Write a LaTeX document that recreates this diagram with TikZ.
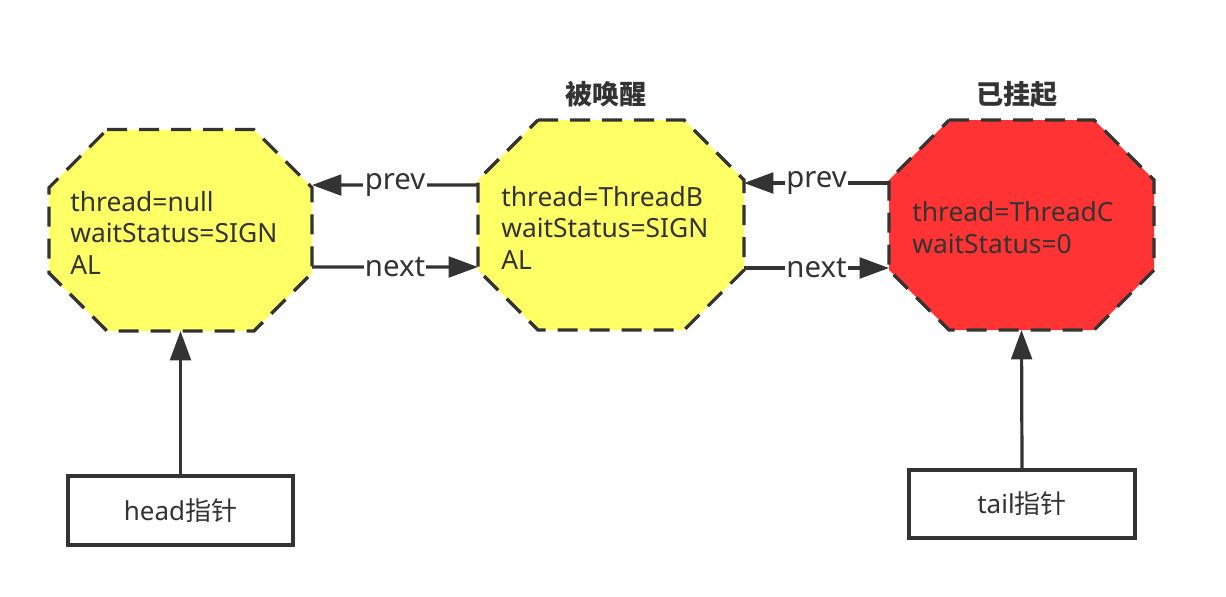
\documentclass[tikz,border=0pt]{standalone}
\usepackage{fontspec}
\setmainfont{Noto Sans}
\newfontfamily\cjk{Noto Sans CJK SC}
\usetikzlibrary{arrows.meta,calc}
\definecolor{ink}{HTML}{333333}
\definecolor{pale}{HTML}{FFFF66}
\definecolor{alarm}{HTML}{FF3333}

% outline of an octagon fitted into the frame node #1, corners cut by #2
\newcommand\octagonpath[2]{%
  ($(#1.north west)+(#2,0)$) -- ($(#1.north east)+(-#2,0)$) --
  ($(#1.north east)+(0,#2)$) -- ($(#1.south east)+(0,-#2)$) --
  ($(#1.south east)+(-#2,0)$) -- ($(#1.south west)+(#2,0)$) --
  ($(#1.south west)+(0,-#2)$) -- ($(#1.north west)+(0,#2)$) -- cycle}

\begin{document}
\begin{tikzpicture}[x=0.75pt,y=-0.75pt,
  frame/.style={inner sep=0pt, outer sep=0pt},
  octo/.style={draw=ink, line width=2.4pt, dash pattern=on 15pt off 9pt, line join=miter},
  body/.style={anchor=base west, align=left, inner sep=0pt, text=ink,
    font=\fontsize{19.8}{23.6}\selectfont},
  title/.style={text=ink, inner sep=0pt, font=\cjk\bfseries\fontsize{20.3}{24}\selectfont},
  link/.style={draw=ink, line width=2.4pt, -{Triangle[length=22pt,width=15.5pt]}},
  tag/.style={fill=white, text=ink, inner sep=1pt, font=\fontsize{22}{26}\selectfont},
  ptr/.style={draw=ink, line width=3pt, fill=white, text=ink, inner sep=0pt,
    font=\fontsize{19.5}{23}\selectfont},
]
\useasboundingbox (0,0) rectangle (1226,596);

% frames of the three queue nodes
\node[frame, minimum width=197.25pt, minimum height=151.1pt] (n1) at (180.5,230.25) {};
\node[frame, minimum width=199.5pt, minimum height=157.5pt] (n2) at (611,225) {};
\node[frame, minimum width=198.75pt, minimum height=157.5pt] (n3) at (1021.5,225) {};

\fill[pale] \octagonpath{n1}{58};
\draw[octo] \octagonpath{n1}{58};
\fill[pale] \octagonpath{n2}{60};
\draw[octo] \octagonpath{n2}{60};
\fill[alarm] \octagonpath{n3}{60};
\draw[octo] \octagonpath{n3}{60};

% node contents (anchored at the baseline of the last line)
\node[body] (t1) at (70,274) {thread=null\\waitStatus=SIGN\\AL};
\node[body] (t2) at (501,269) {thread=ThreadB\\waitStatus=SIGN\\AL};
\node[body] (t3) at (912,253) {thread=ThreadC\\waitStatus=0};

\node[title] (s2) at (606,94) {被唤醒};
\node[title] (s3) at (1017,94) {已挂起};

% prev / next links
\draw[link] ([yshift=30pt]n2.west) -- node[tag] {prev} ([yshift=33.9pt]n1.east);
\draw[link] ([yshift=-27.6pt]n1.east) -- node[tag] {next} ([yshift=-31.5pt]n2.west);
\draw[link] ([yshift=31.5pt]n3.west) -- node[tag] {prev} ([yshift=31.5pt]n2.east);
\draw[link] ([yshift=-32.25pt]n2.east) -- node[tag] {next} ([yshift=-32.25pt]n3.west);

% head and tail pointers
\node[ptr, minimum width=168.75pt, minimum height=51.75pt] (hd) at (180.5,510.5) {head{\cjk 指针}};
\node[ptr, minimum width=169.5pt, minimum height=51pt] (tl) at (1022,504) {tail{\cjk 指针}};
\draw[link] (hd.north) -- (n1.south);
\draw[link] (tl.north) -- (n3.south);
\end{tikzpicture}
\end{document}
